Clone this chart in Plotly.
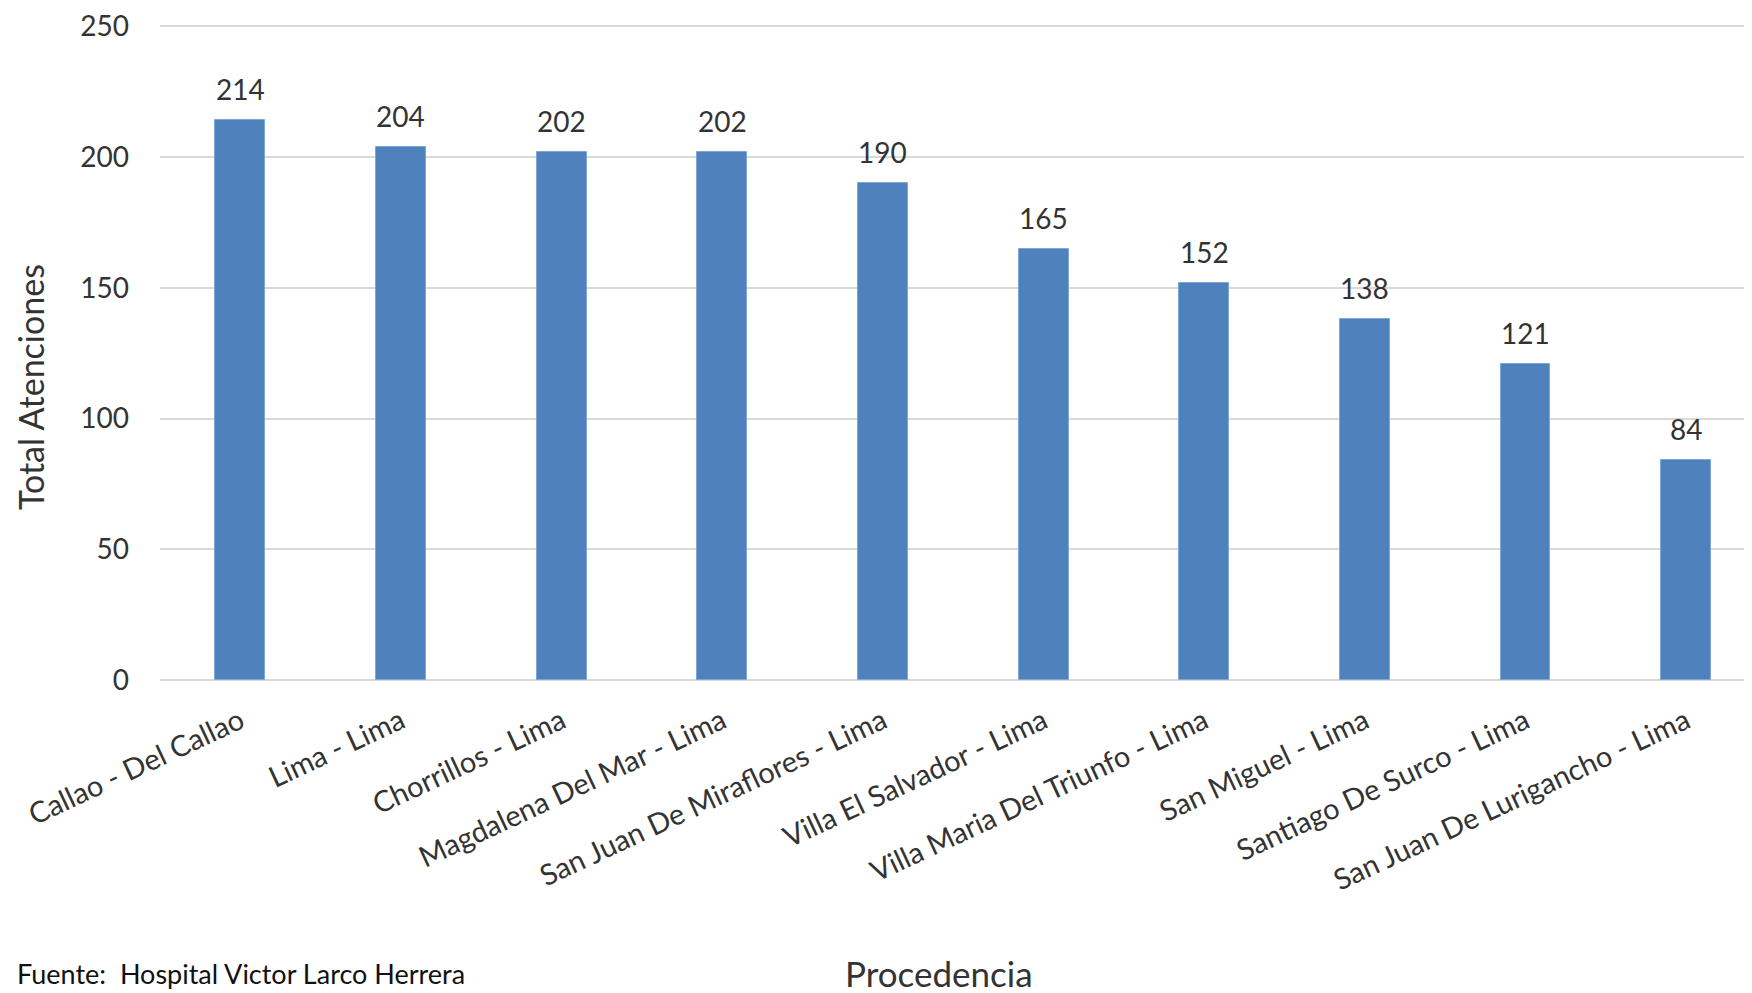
import plotly.graph_objects as go

categories = ["Callao - Del Callao", "Lima - Lima", "Chorrillos - Lima", "Magdalena Del Mar - Lima",
              "San Juan De Miraflores - Lima", "Villa El Salvador - Lima", "Villa Maria Del Triunfo - Lima",
              "San Miguel - Lima", "Santiago De Surco - Lima", "San Juan De Lurigancho - Lima"]
values = [214, 204, 202, 202, 190, 165, 152, 138, 121, 84]
y_ticks = [0, 50, 100, 150, 200, 250]

FONT = "Lato, Open Sans, sans-serif"
TXT = "#333333"
# the page body has an 8px default margin, so the figure is placed at (8, 8)
OFF = 8
FW, FH = 1752 - OFF, 993 - OFF
L, T = 160 - OFF, 25 - OFF
W, H = FW - L, 655


def px(xf):
    return (xf - OFF - L) / W


def py(yf):
    return (T + H - (yf - OFF)) / H


fig = go.Figure(go.Bar(
    x=categories, y=values, width=0.311,
    marker=dict(color="#4F81BD", line=dict(color="#7EA6D6", width=1)),
))
for c, v in zip(categories, values):
    fig.add_annotation(x=c, y=v, text=str(v), showarrow=False, yanchor="bottom", yshift=12,
                       font=dict(size=28, color=TXT, family=FONT))

fig.update_layout(
    width=FW, height=FH,
    margin=dict(l=L, r=0, t=T, b=FH - T - H, autoexpand=False),
    plot_bgcolor="white", paper_bgcolor="white",
    font=dict(family=FONT, color=TXT),
    showlegend=False,
    bargap=0,
)
fig.update_xaxes(
    range=[-0.5, 9.41], tickangle=-25, tickfont=dict(size=29, color=TXT, family=FONT),
    showgrid=False, showline=False, ticks="", automargin=False, ticklabelstandoff=18,
)
fig.update_yaxes(
    range=[0, 250.5], tickvals=y_ticks, tickfont=dict(size=28, color=TXT, family=FONT),
    showgrid=True, gridcolor="#D9D9D9", gridwidth=2, zeroline=True, zerolinecolor="#D9D9D9",
    zerolinewidth=2, ticks="", ticklabelstandoff=30, automargin=False,
)
fig.add_annotation(text="Total Atenciones", textangle=-90, xref="paper", yref="paper",
                   x=px(31), y=py(387), showarrow=False, xanchor="center", yanchor="middle",
                   font=dict(size=34, color=TXT, family=FONT))
fig.add_annotation(text="Procedencia", xref="paper", yref="paper",
                   x=px(939), y=py(996), showarrow=False, xanchor="center", yanchor="bottom",
                   font=dict(size=35, color=TXT, family=FONT))
fig.add_annotation(text="Fuente:  Hospital Victor Larco Herrera", xref="paper", yref="paper",
                   x=px(15), y=py(992), showarrow=False, xanchor="left", yanchor="bottom",
                   font=dict(size=27, color="#111111", family=FONT))
fig.write_html("out.html")
